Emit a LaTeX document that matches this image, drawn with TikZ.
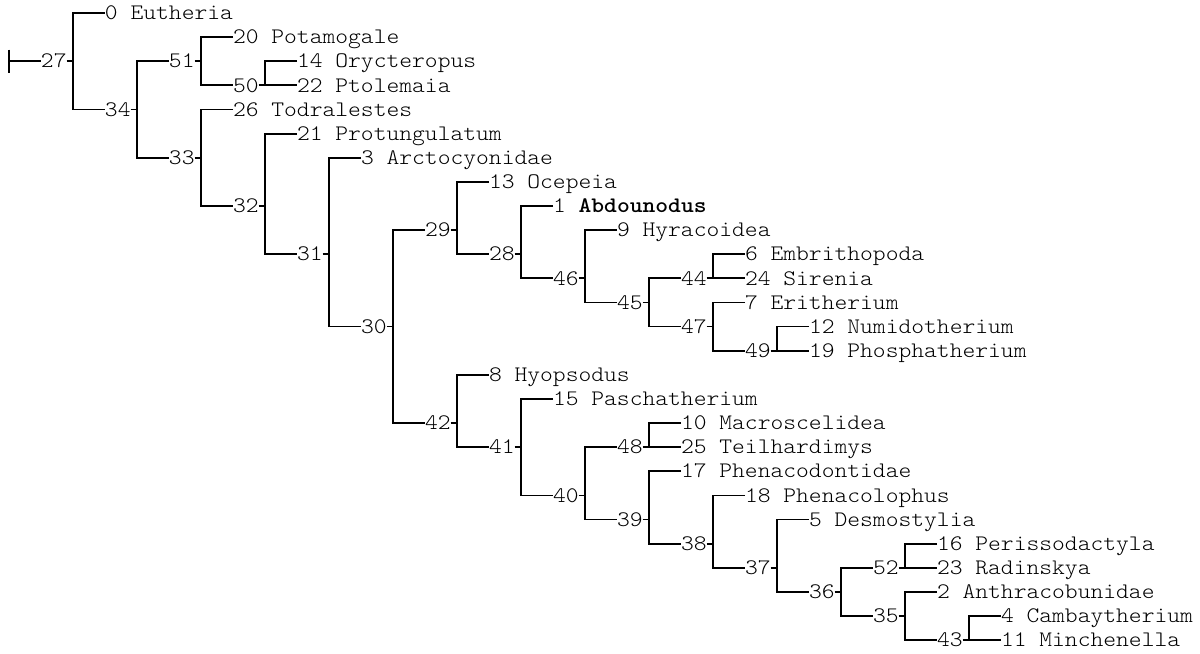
\documentclass[tikz,border=0pt]{standalone}
\usepackage{fontspec}
% light typewriter face, widened so that one character is 12.8pt wide
\newfontfamily\treefont{lmmonolt10-regular.otf}[FakeStretch=1.1, BoldFont=lmmonolt10-bold.otf]
\begin{document}
\begin{tikzpicture}[
  x=12.8pt, y=-24.12pt,
  lab/.style={inner sep=0pt, outer sep=0pt, anchor=west,
    text height=13.4pt, text depth=0pt,
    font=\treefont\fontsize{22.165pt}{24pt}\selectfont},
  edge/.style={line width=1.8pt, line join=miter}
]
\path[use as bounding box] (-0.203,-0.539) rectangle (93.547,26.575);

% labels: column of the first character, row
\node[lab] (n27) at (3,2) {27};
\node[lab] (n0)  at (8,0) {0 Eutheria};
\node[lab] (n34) at (8,4) {34};
\node[lab] (n51) at (13,2) {51};
\node[lab] (n20) at (18,1) {20 Potamogale};
\node[lab] (n50) at (18,3) {50};
\node[lab] (n14) at (23,2) {14 Orycteropus};
\node[lab] (n22) at (23,3) {22 Ptolemaia};
\node[lab] (n33) at (13,6) {33};
\node[lab] (n26) at (18,4) {26 Todralestes};
\node[lab] (n32) at (18,8) {32};
\node[lab] (n21) at (23,5) {21 Protungulatum};
\node[lab] (n31) at (23,10) {31};
\node[lab] (n3)  at (28,6) {3 Arctocyonidae};
\node[lab] (n30) at (28,13) {30};
\node[lab] (n29) at (33,9) {29};
\node[lab] (n13) at (38,7) {13 Ocepeia};
\node[lab] (n28) at (38,10) {28};
\node[lab] (n1)  at (43,8) {1 \textbf{Abdounodus}};
\node[lab] (n46) at (43,11) {46};
\node[lab] (n9)  at (48,9) {9 Hyracoidea};
\node[lab] (n45) at (48,12) {45};
\node[lab] (n44) at (53,11) {44};
\node[lab] (n6)  at (58,10) {6 Embrithopoda};
\node[lab] (n24) at (58,11) {24 Sirenia};
\node[lab] (n47) at (53,13) {47};
\node[lab] (n7)  at (58,12) {7 Eritherium};
\node[lab] (n49) at (58,14) {49};
\node[lab] (n12) at (63,13) {12 Numidotherium};
\node[lab] (n19) at (63,14) {19 Phosphatherium};
\node[lab] (n42) at (33,17) {42};
\node[lab] (n8)  at (38,15) {8 Hyopsodus};
\node[lab] (n41) at (38,18) {41};
\node[lab] (n15) at (43,16) {15 Paschatherium};
\node[lab] (n40) at (43,20) {40};
\node[lab] (n48) at (48,18) {48};
\node[lab] (n10) at (53,17) {10 Macroscelidea};
\node[lab] (n25) at (53,18) {25 Teilhardimys};
\node[lab] (n39) at (48,21) {39};
\node[lab] (n17) at (53,19) {17 Phenacodontidae};
\node[lab] (n38) at (53,22) {38};
\node[lab] (n18) at (58,20) {18 Phenacolophus};
\node[lab] (n37) at (58,23) {37};
\node[lab] (n5)  at (63,21) {5 Desmostylia};
\node[lab] (n36) at (63,24) {36};
\node[lab] (n52) at (68,23) {52};
\node[lab] (n16) at (73,22) {16 Perissodactyla};
\node[lab] (n23) at (73,23) {23 Radinskya};
\node[lab] (n35) at (68,25) {35};
\node[lab] (n2)  at (73,24) {2 Anthracobunidae};
\node[lab] (n43) at (73,26) {43};
\node[lab] (n4)  at (78,25) {4 Cambaytherium};
\node[lab] (n11) at (78,26) {11 Minchenella};

% junctions on the vertical bar of every internal node
\coordinate (root) at (0.5,2);
\coordinate (v27) at (5.5,2);
\coordinate (v34) at (10.5,4);
\coordinate (v51) at (15.5,2);
\coordinate (v50) at (20.5,3);
\coordinate (v33) at (15.5,6);
\coordinate (v32) at (20.5,8);
\coordinate (v31) at (25.5,10);
\coordinate (v30) at (30.5,13);
\coordinate (v29) at (35.5,9);
\coordinate (v28) at (40.5,10);
\coordinate (v46) at (45.5,11);
\coordinate (v45) at (50.5,12);
\coordinate (v44) at (55.5,11);
\coordinate (v47) at (55.5,13);
\coordinate (v49) at (60.5,14);
\coordinate (v42) at (35.5,17);
\coordinate (v41) at (40.5,18);
\coordinate (v40) at (45.5,20);
\coordinate (v48) at (50.5,18);
\coordinate (v39) at (50.5,21);
\coordinate (v38) at (55.5,22);
\coordinate (v37) at (60.5,23);
\coordinate (v36) at (65.5,24);
\coordinate (v52) at (70.5,23);
\coordinate (v35) at (70.5,25);
\coordinate (v43) at (75.5,26);

% root
\draw[edge] ([yshift=11.5pt]root) -- ([yshift=-11.5pt]root);
\draw[edge] (root) -- (n27.west);

% brackets: first child -| junction |- second child, plus stub from label
\foreach \p/\a/\b in {27/0/34, 34/51/33, 51/20/50, 50/14/22, 33/26/32,
    32/21/31, 31/3/30, 30/29/42, 29/13/28, 28/1/46, 46/9/45, 45/44/47,
    44/6/24, 47/7/49, 49/12/19, 42/8/41, 41/15/40, 40/48/39, 48/10/25,
    39/17/38, 38/18/37, 37/5/36, 36/52/35, 52/16/23, 35/2/43, 43/4/11} {
  \draw[edge] (n\a.west) -| (v\p) |- (n\b.west);
  \draw[edge] (n\p.east) -- (v\p);
}
\end{tikzpicture}
\end{document}
